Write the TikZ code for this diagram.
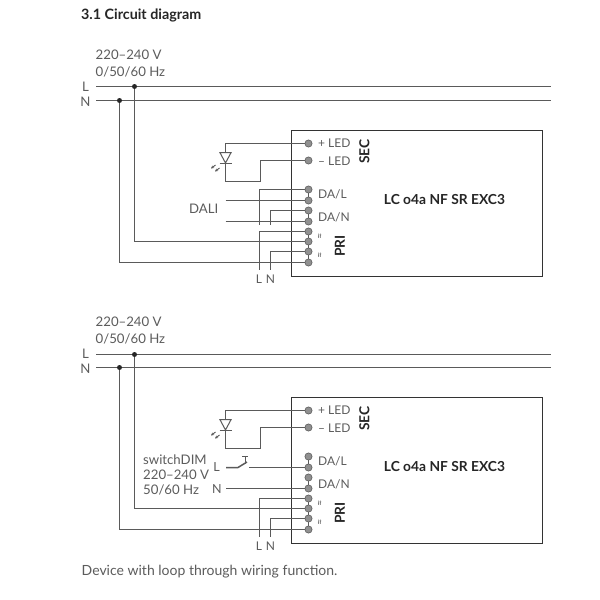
\documentclass[tikz,border=0pt]{standalone}
\usepackage{fontspec}
\setmainfont{Lato}
\usetikzlibrary{arrows.meta}
\definecolor{wire}{HTML}{5A5A5A}
\definecolor{txt}{HTML}{5C5C5C}
\definecolor{term}{HTML}{909090}
\tikzset{
  x=1pt,y=-1pt,
  wirepath/.style={draw=wire,line width=1.5pt},
  boxline/.style={draw=black!80,line width=1.5pt},
  terminal/.style={circle,draw=wire,fill=term,line width=0.6pt,minimum size=7.2pt,inner sep=0pt},
  lbl/.style={text=txt,inner sep=0pt,font=\fontsize{12}{14}\selectfont},
  biglbl/.style={text=txt,inner sep=0pt,font=\fontsize{13.2}{15}\selectfont},
  boldlbl/.style={text=black!85,inner sep=0pt,font=\fontsize{13.8}{15}\selectfont\bfseries},
  dot/.style={circle,fill=black!85,minimum size=5pt,inner sep=0pt}
}
\newcommand{\ballastunit}{%
  \node[boxline,minimum width=251pt,minimum height=146pt,inner sep=0pt,anchor=north west] (box) at (290.5,129.5) {};
  \foreach \n/\yy in {1/143.5,2/160.5,3/189.5,4/200.5,5/210.5,6/221.5,7/231.5,8/241.5,9/251.5,10/262.5}
    \coordinate (c\n) at (308.5,\yy);
  % LED loop
  \coordinate (ledtop) at (225.5,143.5);
  \coordinate (ledbl) at (225.5,181.5);
  \coordinate (ledbr) at (260.5,181.5);
  \coordinate (ledtr) at (260.5,160.5);
  \draw[wirepath] (c1) -- (ledtop) -- (ledbl) -- (ledbr) -- (ledtr) -- (c2);
  \draw[wirepath,line width=1pt,fill=white] (220,152.7) -- (231,152.7) -- (225.5,163) -- cycle;
  \draw[wirepath] (219.5,163.5) -- (231.5,163.5);
  \draw[wirepath,line width=0.9pt,-{Stealth[length=3pt,width=3pt]}] (215.5,165) -- (211,168.5);
  \draw[wirepath,line width=0.9pt,-{Stealth[length=3pt,width=3pt]}] (219.5,168) -- (215,171.5);
  % links between terminal pairs
  \draw[wirepath] (c3) -- (c4);
  \draw[wirepath] (c5) -- (c6);
  \draw[wirepath] (c7) -- (c8);
  \draw[wirepath] (c8) -- (c9);
  \draw[wirepath] (c9) -- (c10);
  % loop-through wires
  \coordinate (la) at (259.5,231.5);
  \coordinate (lb) at (259.5,270);
  \coordinate (na) at (270.5,251.5);
  \coordinate (nb) at (270.5,270);
  \draw[wirepath] (c7) -- (la) -- (lb);
  \draw[wirepath] (c9) -- (na) -- (nb);
  \node[lbl] (lL) at (259,279.5) {L};
  \node[lbl] (lN) at (270.5,279.5) {N};
  % labels
  \node[lbl,anchor=west] (plus) at (318,143) {+ LED};
  \node[lbl,anchor=west] (minus) at (318,160.7) {– LED};
  \node[lbl,anchor=west] (dal) at (318,194.8) {DA/L};
  \node[lbl,anchor=west] (dan) at (318,217) {DA/N};
  \node[lbl,rotate=90,font=\fontsize{11}{11}\selectfont] (ac1) at (320.8,236.5) {≈};
  \node[lbl,rotate=90,font=\fontsize{11}{11}\selectfont] (ac2) at (320.8,255.7) {≈};
  \node[boldlbl,rotate=90] (sec) at (364.5,151.7) {SEC};
  \node[boldlbl,rotate=90] (pri) at (340,246) {PRI};
  \node[boldlbl,anchor=center] (name) at (444.5,200) {LC o4a NF SR EXC3};
}
\begin{document}
\begin{tikzpicture}
\useasboundingbox (0,0) rectangle (600,600);
\fill[white] (0,0) rectangle (600,600);
\node[boldlbl,anchor=west,font=\fontsize{14.3}{16}\selectfont\bfseries] (title) at (81,15) {3.1 Circuit diagram};

% upper diagram
\begin{scope}[name prefix=u-]
  \ballastunit
  \coordinate (d1) at (225.5,200.5);
  \coordinate (d2) at (225.5,221.5);
  \coordinate (dl1) at (259.5,189.5);
  \coordinate (dl2) at (259.5,225);
  \coordinate (dn1) at (270.5,210.5);
  \coordinate (dn2) at (270.5,225);
  \draw[wirepath] (d1) -- (c4);
  \draw[wirepath] (d2) -- (c6);
  \draw[wirepath] (c3) -- (dl1) -- (dl2);
  \draw[wirepath] (c5) -- (dn1) -- (dn2);
  \node[biglbl,anchor=west] (dali) at (189,209) {DALI};
\end{scope}
\coordinate (uLa) at (96,86.5);
\coordinate (uLb) at (551,86.5);
\coordinate (uNa) at (96,100.5);
\coordinate (uNb) at (551,100.5);
\draw[wirepath] (uLa) -- (uLb);
\draw[wirepath] (uNa) -- (uNb);
\node[dot] (uj1) at (134.5,86.5) {};
\node[dot] (uj2) at (119.5,100.5) {};
\draw[wirepath] (uj1) -- (uj1 |- u-c8) -- (u-c8);
\draw[wirepath] (uj2) -- (uj2 |- u-c10) -- (u-c10);
\node[biglbl,anchor=west] (uv) at (95.5,55) {220–240 V};
\node[biglbl,anchor=west] (uf) at (95.5,72) {0/50/60 Hz};
\node[biglbl] (uL) at (85.5,86.5) {L};
\node[biglbl] (uN) at (85.5,101.5) {N};
\foreach \n in {1,...,10} \node[terminal] (ut\n) at (u-c\n) {};

% lower diagram
\begin{scope}[yshift=-267pt,name prefix=l-]
  \ballastunit
  \coordinate (sa) at (226,200.5);
  \coordinate (sb) at (238,200.5);
  \coordinate (sc) at (249,200.5);
  \coordinate (nn) at (226,221.5);
  \draw[wirepath] (sa) -- (sb) -- (247,195);
  \draw[wirepath] (sc) -- (c4);
  \draw[wirepath,line width=1pt] (245,189) -- (245,196.5);
  \draw[wirepath,line width=1pt] (242,189) -- (247.5,189);
  \draw[wirepath] (nn) -- (c6);
  \node[lbl,font=\fontsize{12.5}{14}\selectfont] (sl) at (216.5,200) {L};
  \node[lbl,font=\fontsize{12.5}{14}\selectfont] (sn) at (217,221.8) {N};
  \node[biglbl,anchor=west] (sw1) at (143,193) {switchDIM};
  \node[biglbl,anchor=west] (sw2) at (143,208) {220–240 V};
  \node[biglbl,anchor=west] (sw3) at (143,223) {50/60 Hz};
\end{scope}
\coordinate (lLa) at (96,354.5);
\coordinate (lLb) at (551,354.5);
\coordinate (lNa) at (96,367.5);
\coordinate (lNb) at (551,367.5);
\draw[wirepath] (lLa) -- (lLb);
\draw[wirepath] (lNa) -- (lNb);
\node[dot] (lj1) at (134.5,354.5) {};
\node[dot] (lj2) at (119.5,367.5) {};
\draw[wirepath] (lj1) -- (lj1 |- l-c8) -- (l-c8);
\draw[wirepath] (lj2) -- (lj2 |- l-c10) -- (l-c10);
\node[biglbl,anchor=west] (lv) at (95.5,322) {220–240 V};
\node[biglbl,anchor=west] (lf) at (95.5,339) {0/50/60 Hz};
\node[biglbl] (lL) at (85.5,353.5) {L};
\node[biglbl] (lN) at (85.5,368.5) {N};
\foreach \n in {1,...,10} \node[terminal] (lt\n) at (l-c\n) {};

\node[biglbl,anchor=west,font=\fontsize{14}{16}\selectfont] (cap) at (81.5,572) {Device with loop through wiring function.};
\end{tikzpicture}
\end{document}
